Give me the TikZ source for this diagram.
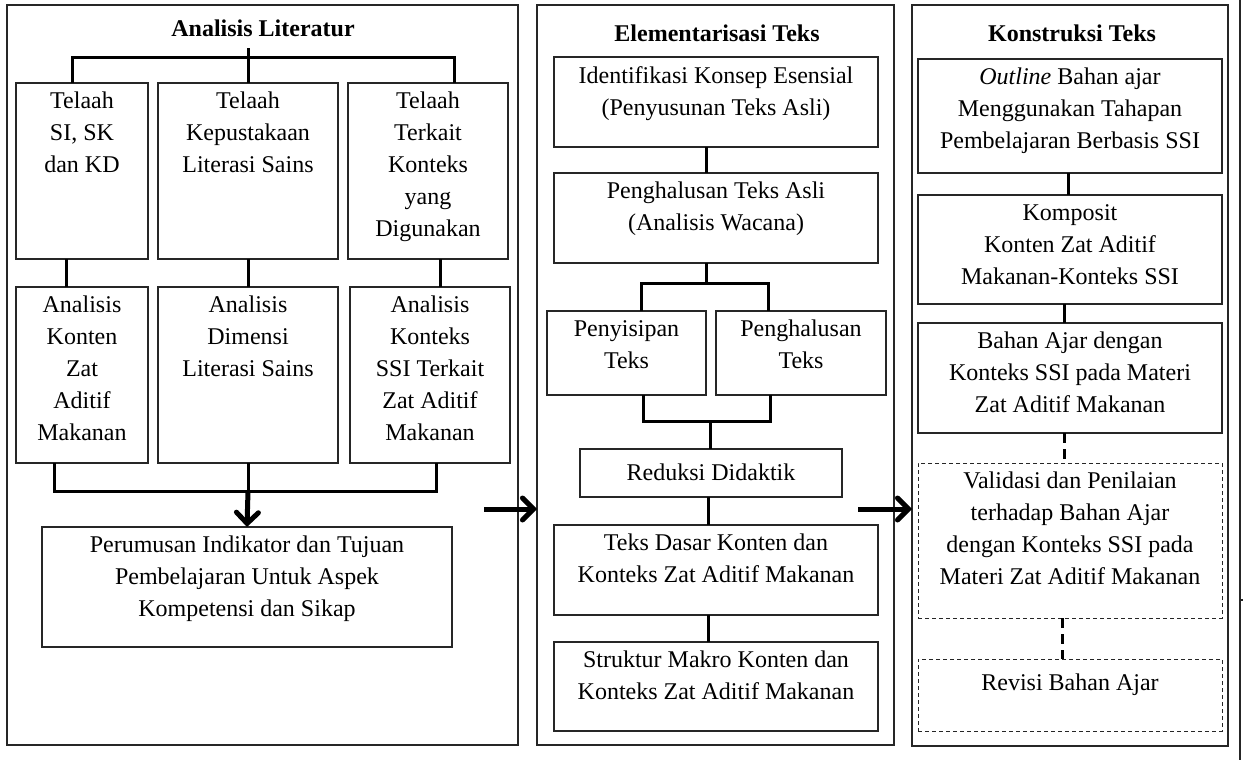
\documentclass[tikz,border=0pt]{standalone}
\usepackage{fontspec}
\setmainfont{Liberation Serif}
\usetikzlibrary{arrows.meta,calc}
\newcommand\tbox[7]{%
  \node[#6, minimum width=#4pt, minimum height=#5pt] (#1) at (#2,#3) {};
  \node[txt, anchor=north] (#1t) at ([yshift=-9pt]#1.north) {#7};}
\begin{document}
\begin{tikzpicture}[x=1pt,y=-1pt,
  panel/.style={draw=black!85, line width=1.3pt, inner sep=0, outer sep=0},
  boxst/.style={draw=black!85, line width=1.3pt, inner sep=0, outer sep=0},
  dbox/.style={draw=black!85, line width=1pt, dash pattern=on 4pt off 3pt, inner sep=0, outer sep=0},
  txt/.style={font=\fontsize{24}{32}\selectfont, align=center, inner sep=0, execute at begin node=\strut},
  ttl/.style={font=\fontsize{24}{32}\selectfont\bfseries, anchor=base, inner sep=0},
  conn/.style={draw=black, line width=3pt},
  dconn/.style={draw=black, line width=3pt, dash pattern=on 10pt off 6pt},
  arr/.style={draw=black, line width=5pt, -{Straight Barb[length=11pt,width=22pt,line cap=round]}}]
\useasboundingbox (0,0) rectangle (1243,760);
% panels
\node[panel, minimum width=511pt, minimum height=740pt] (P1) at (262.5,375) {};
\node[panel, minimum width=357pt, minimum height=740pt] (P2) at (715.5,375) {};
\node[panel, minimum width=316pt, minimum height=741pt] (P3) at (1070,375.5) {};
% titles
\node[ttl] (T1) at (263,37) {Analisis Literatur};
\node[ttl] (T2) at (717,42) {Elementarisasi Teks};
\node[ttl] (T3) at (1072,42) {Konstruksi Teks};
% panel 1
\tbox{A1}{82}{171}{132}{176}{boxst}{Telaah\\SI, SK\\dan KD}
\tbox{A2}{248}{171}{180}{176}{boxst}{Telaah\\Kepustakaan\\Literasi Sains}
\tbox{A3}{428}{171}{160}{176}{boxst}{Telaah\\Terkait\\Konteks\\yang\\Digunakan}
\tbox{B1}{82}{375}{132}{176}{boxst}{Analisis\\Konten\\Zat\\Aditif\\Makanan}
\tbox{B2}{248}{375}{180}{176}{boxst}{Analisis\\Dimensi\\Literasi Sains}
\tbox{B3}{430}{375}{160}{176}{boxst}{Analisis\\Konteks\\SSI Terkait\\Zat Aditif\\Makanan}
\tbox{PR}{247}{587}{410}{120}{boxst}{Perumusan Indikator dan Tujuan\\Pembelajaran Untuk Aspek\\Kompetensi dan Sikap}
% panel 2
\tbox{E1}{716}{102}{324}{90}{boxst}{Identifikasi Konsep Esensial\\(Penyusunan Teks Asli)}
\tbox{E2}{716}{218}{324}{90}{boxst}{Penghalusan Teks Asli\\(Analisis Wacana)}
\tbox{E3}{626.5}{353}{159}{84}{boxst}{Penyisipan\\Teks}
\tbox{E4}{801}{353}{170}{84}{boxst}{Penghalusan\\Teks}
\tbox{E5}{711}{473}{262}{48}{boxst}{Reduksi Didaktik}
\tbox{E6}{716}{570}{324}{90}{boxst}{Teks Dasar Konten dan\\Konteks Zat Aditif Makanan}
\tbox{E7}{716}{686.5}{324}{89}{boxst}{Struktur Makro Konten dan\\Konteks Zat Aditif Makanan}
% panel 3
\tbox{K1}{1070}{116}{304}{114}{boxst}{\textit{Outline} Bahan ajar\\Menggunakan Tahapan\\Pembelajaran Berbasis SSI}
\tbox{K2}{1070}{249.5}{304}{109}{boxst}{Komposit\\Konten Zat Aditif\\Makanan-Konteks SSI}
\tbox{K3}{1070}{378}{304}{110}{boxst}{Bahan Ajar dengan\\Konteks SSI pada Materi\\Zat Aditif Makanan}
\tbox{K4}{1070}{540.5}{304}{155}{dbox}{Validasi dan Penilaian\\terhadap Bahan Ajar\\dengan Konteks SSI pada\\Materi Zat Aditif Makanan}
\tbox{K5}{1070}{695}{304}{72}{dbox}{Revisi Bahan Ajar}
% panel 1 connectors
\draw[conn] ([xshift=56pt]A1.north west) -- ++(0,-25) -| ([xshift=106pt]A3.north west);
\draw[conn] (A2.north) -- ++(0,-35);
\draw[conn] ([xshift=50pt]A1.south west) -- ([xshift=50pt]B1.north west);
\draw[conn] (A2.south) -- (B2.north);
\draw[conn] ([xshift=92pt]A3.south west) -- ++(0,28);
\draw[conn] ([xshift=38pt]B1.south west) -- ++(0,28) -| ([xshift=86pt]B3.south west);
\coordinate (J1) at (248,491);
\draw[conn] (B2.south) -- (J1);
\draw[arr] (J1) -- (PR.north);
% panel 2 connectors
\draw[conn] ([xshift=-10pt]E1.south) -- ([xshift=-10pt]E2.north);
\draw[conn] ([xshift=-10pt]E2.south) -- ++(0,20);
\draw[conn] ([xshift=14.5pt]E3.north) -- ++(0,-28) -| ([xshift=-33pt]E4.north);
\draw[conn] ([xshift=16.5pt]E3.south) -- ++(0,26) -| ([xshift=-31pt]E4.south);
\draw[conn] ([xshift=-1pt]E5.north) -- ++(0,-28);
\draw[conn] ([xshift=-3pt]E5.south) -- ++(0,28);
\draw[conn] ([xshift=-8pt]E6.south) -- ([xshift=-8pt]E7.north);
% panel 3 connectors
\draw[conn] ([xshift=-2pt]K1.south) -- ([xshift=-2pt]K2.north);
\draw[conn] ([xshift=-6pt]K2.south) -- ([xshift=-6pt]K3.north);
\draw[dconn] ([xshift=-6pt]K3.south) -- ([xshift=-6pt]K4.north);
\draw[dconn] ([xshift=-8pt]K4.south) -- ([xshift=-8pt]K5.north);
% arrows between panels
\coordinate (S1) at (484,509);
\coordinate (S2) at (858,509);
\draw[arr] (S1) -- (S1 -| P2.west);
\draw[arr] (S2) -- (S2 -| P3.west);
% right page edge
\coordinate (R1) at (1240,0);
\coordinate (R2) at (1240,760);
\draw[black!85, line width=1.2pt] (R1) -- (R2);
\coordinate (R3) at (1240,600);
\draw[black!85, line width=1.2pt] (R3) -- ++(4,0);
\end{tikzpicture}
\end{document}
